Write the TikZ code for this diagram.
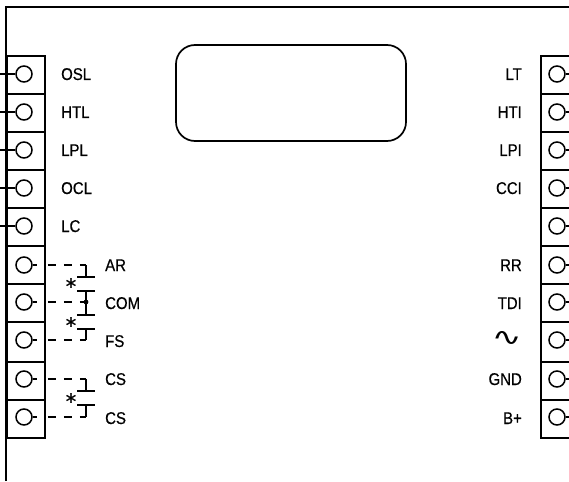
\documentclass[tikz,border=0pt]{standalone}
\usepackage{fontspec}
\setmainfont{Liberation Sans}[FakeBold=0.5,FakeStretch=0.88]
\newfontfamily\symfont{DejaVu Sans}[FakeBold=0.8]
\newfontfamily\acfont{DejaVu Sans}
\tikzset{
  ln/.style={line width=1.7pt,black},
  cell/.style={draw,line width=1.8pt,rectangle,inner sep=0pt,minimum width=38pt,minimum height=38pt,anchor=north west},
  term/.style={draw,line width=1.5pt,circle,inner sep=0pt,minimum size=16pt,fill=white},
  lab/.style={inner sep=0pt,font=\fontsize{17}{17}\selectfont,anchor=base west},
  labr/.style={inner sep=0pt,font=\fontsize{17}{17}\selectfont,anchor=base east},
  dashwire/.style={line width=1.5pt,dash pattern=on 4pt off 11pt on 8pt off 8pt on 8pt off 8pt on 9pt},
  star/.style={inner sep=0pt,font=\symfont\fontsize{21}{21}\selectfont,anchor=center}
}
\begin{document}
\begin{tikzpicture}[x=1pt,y=-1pt]
\useasboundingbox (0,0) rectangle (569,481);
\clip (0,0) rectangle (569,481);
% housing
\coordinate (hb) at (6,481);
\coordinate (ht) at (6,7);
\coordinate (hr) at (569,7);
\draw[ln] (hb) -- (ht) -- (hr);
% display
\node[draw,line width=1.7pt,rounded corners=19pt,inner sep=0pt,minimum width=230pt,minimum height=96pt] (disp) at (291,93) {};
% cells
\foreach \n/\t/\h in {1/55/38,2/93/38,3/131/38,4/169/38,5/207/38,6/245/38,7/283/38,8/321/40,9/361/38,10/399/38}{
  \node[cell,minimum height=\h pt] (LC\n) at (6,\t) {};
  \node[cell,minimum height=\h pt] (RC\n) at (540,\t) {};
}
% terminals
\foreach \n/\y in {1/74,2/112,3/150,4/188,5/226,6/265,7/302,8/340,9/379,10/417}{
  \node[term] (L\n) at (24,\y) {};
  \node[term] (R\n) at (557,\y) {};
  \coordinate (RE\n) at (569,\y);
  \draw[ln] (R\n) -- (RE\n);
}
% left leads
\foreach \n/\y in {1/74,2/112,3/150,4/188,5/226}{
  \coordinate (LE\n) at (0,\y);
  \draw[ln] (LE\n) -- (L\n);
}
% contacts
\coordinate (C6) at (86,265);
\coordinate (C7) at (86,302);
\coordinate (C8) at (86,340);
\coordinate (C9) at (86,379);
\coordinate (C10) at (86,417);
\foreach \n in {6,7,8,9,10}{\draw[dashwire] (L\n.east) -- (C\n);}
\draw[ln] (C6) -- (86,277);
\draw[ln] (77,277) -- (95,277);
\draw[ln] (77,291) -- (95,291);
\draw[ln] (86,291) -- (86,315);
\draw[ln] (77,315) -- (95,315);
\fill (C7) circle (2.4pt);
\draw[ln] (77,329) -- (95,329);
\draw[ln] (86,329) -- (C8);
\draw[ln] (C9) -- (86,391);
\draw[ln] (77,391) -- (95,391);
\draw[ln] (77,405) -- (95,405);
\draw[ln] (86,405) -- (C10);
\node[star] (s1) at (71,286) {*};
\node[star] (s2) at (71,325) {*};
\node[star] (s3) at (71,401) {*};
% labels
\node[lab] (tosl) at (61,80) {OSL};
\node[lab] (thtl) at (61,118) {HTL};
\node[lab] (tlpl) at (61,156) {LPL};
\node[lab] (tocl) at (61,194) {OCL};
\node[lab] (tlc) at (61,232) {LC};
\node[lab] (tar) at (105,271) {AR};
\node[lab] (tcom) at (105,309) {COM};
\node[lab] (tfs) at (105,347) {FS};
\node[lab] (tcs1) at (105,385) {CS};
\node[lab] (tcs2) at (105,424) {CS};
\node[labr] (tlt) at (522,80) {LT};
\node[labr] (thti) at (522,118) {HTI};
\node[labr] (tlpi) at (522,156) {LPI};
\node[labr] (tcci) at (522,194) {CCI};
\node[labr] (trr) at (522,271) {RR};
\node[labr] (ttdi) at (522,309) {TDI};
\node[labr] (tac) at (522,345) {\scalebox{2.4}[1.6]{\acfont\fontsize{15}{15}\selectfont ∿}};
\node[labr] (tgnd) at (522,385) {GND};
\node[labr] (tbp) at (522,424) {B+};
\end{tikzpicture}
\end{document}
